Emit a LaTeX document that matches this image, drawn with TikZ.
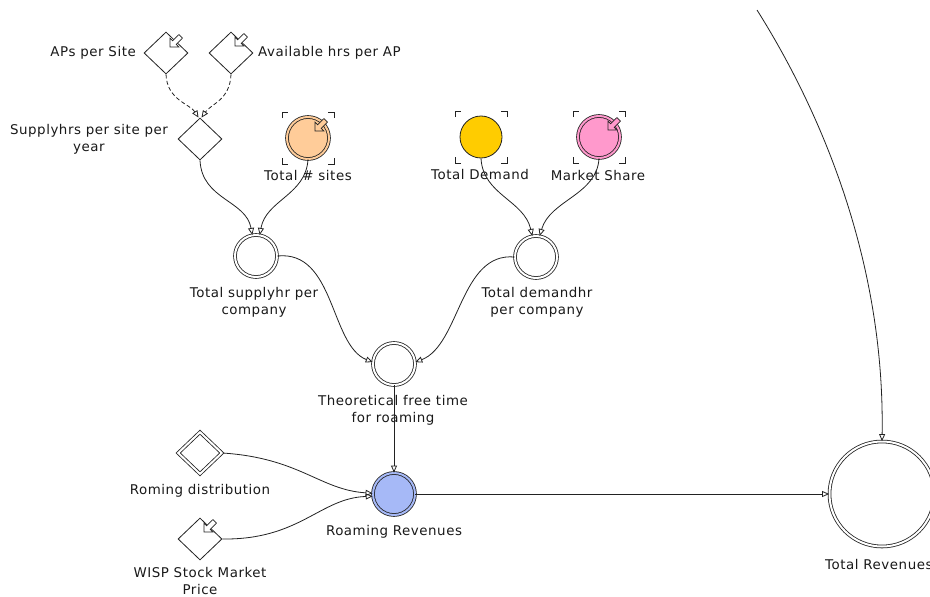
\documentclass[tikz,border=0pt]{standalone}
\usepackage{fontspec}
\setmainfont{DejaVu Sans}[LetterSpace=4]
\usetikzlibrary{shapes.geometric,arrows.meta}
\definecolor{lineclr}{HTML}{222222}
\definecolor{sitesfill}{HTML}{FFCC99}
\definecolor{demandfill}{HTML}{FFCC00}
\definecolor{sharefill}{HTML}{FF99CC}
\definecolor{roamfill}{HTML}{A6B9F7}
\begin{document}
\begin{tikzpicture}[x=1pt,y=-1pt,
  lbl/.style={font=\fontsize{13.4pt}{17pt}\selectfont, text=black!90, inner sep=0pt, align=center},
  conn/.style={draw=lineclr, line width=0.8pt, -{Triangle[open,length=7pt,width=6pt]}},
  dconn/.style={conn, dash pattern=on 4pt off 2.5pt},
  aux/.style={diamond, draw=lineclr, fill=white, line width=0.8pt, minimum width=44pt, minimum height=42pt, inner sep=0pt},
  dblcirc/.style={circle, draw=lineclr, line width=0.8pt, double=#1, double distance=2pt, fill=#1, minimum size=42pt, inner sep=0pt},
  pics/ghost/.style={code={
    \foreach \sx in {-1,1}\foreach \sy in {-1,1}{
      \draw[lineclr, line width=0.8pt] (\sx*26,\sy*20) -- (\sx*26,\sy*26) -- (\sx*20,\sy*26);}}},
  pics/inicon/.style={code={
    \draw[lineclr, line width=0.7pt, fill=#1] (0,0) -- (8.8,0) -- (6.2,-2.6) -- (12.4,-8.9)
      -- (8.9,-12.4) -- (2.6,-6.2) -- (0,-8.8) -- cycle;}}
]
\useasboundingbox (0,0) rectangle (930,597);

% converters and constants
\node[aux] (aps) at (166,53) {};
\node[aux] (avail) at (231,53) {};
\node[aux] (supply) at (200,139) {};
\node[aux, double=white, double distance=2pt] (rdist) at (200,453) {};
\node[aux] (wisp) at (200,539) {};

% variables
\node[dblcirc=sitesfill] (sites) at (308,138) {};
\node[circle, draw=lineclr, line width=0.8pt, fill=demandfill, minimum size=42pt, inner sep=0pt] (demand) at (481,137) {};
\node[dblcirc=sharefill] (share) at (599,137) {};
\node[dblcirc=white] (tsupply) at (256,256) {};
\node[dblcirc=white] (tdemand) at (536,257) {};
\node[dblcirc=white] (free) at (394,364) {};
\node[dblcirc=roamfill] (roam) at (394,494) {};
\node[dblcirc=white, minimum size=105pt] (trev) at (882,494) {};

% ghost brackets and input markers
\pic at (308,138) {ghost};
\pic at (481,137) {ghost};
\pic at (599,137) {ghost};
\pic at (170,47) {inicon=white};
\pic at (235,46) {inicon=white};
\pic at (315,131) {inicon=sitesfill};
\pic at (608,130) {inicon=sharefill};
\pic at (204,532) {inicon=white};

% labels
\node[lbl, anchor=east] (laps) at (136,53) {APs per Site};
\node[lbl, anchor=west] (lavail) at (258,53) {Available hrs per AP};
\node[lbl] (lsupply) at (89,139) {Supplyhrs per site per\\year};
\node[lbl] (lsites) at (308,176) {Total \# sites};
\node[lbl] (ldemand) at (480,175) {Total Demand};
\node[lbl] (lshare) at (598,176) {Market Share};
\node[lbl] (ltsupply) at (254,302) {Total supplyhr per\\company};
\node[lbl] (ltdemand) at (537,302) {Total demandhr\\per company};
\node[lbl] (lfree) at (393,410) {Theoretical free time\\for roaming};
\node[lbl] (lrdist) at (200,491) {Roming distribution};
\node[lbl] (lwisp) at (200,581) {WISP Stock Market\\Price};
\node[lbl] (lroam) at (394,532) {Roaming Revenues};
\node[lbl, anchor=west] (ltrev) at (825,565) {Total Revenues};

\coordinate (topend) at (757,10);

% connectors
\draw[dconn] (aps.south) .. controls (167,100) and (190,104) .. ([xshift=-1.5pt]supply.north);
\draw[dconn] (avail.south) .. controls (230,100) and (211,104) .. ([xshift=1.5pt]supply.north);
\draw[conn] (supply.south) .. controls (202,200) and (246,200) .. (tsupply.100);
\draw[conn] (sites.south) .. controls (306,195) and (266,200) .. (tsupply.80);
\draw[conn] (demand.south) .. controls (483,195) and (524,200) .. (tdemand.100);
\draw[conn] (share.south) .. controls (597,195) and (550,200) .. (tdemand.80);
\draw[conn] (tsupply.east) .. controls (335,250) and (330,345) .. (free.175);
\draw[conn] (tdemand.west) .. controls (460,252) and (460,345) .. (free.5);
\draw[conn] (free.south) -- (roam.north);
\draw[conn] (rdist.east) .. controls (300,458) and (320,490) .. (roam.178);
\draw[conn] (wisp.east) .. controls (300,540) and (320,498) .. (roam.186);
\draw[conn] (roam.east) -- (trev.west);
\draw[conn] (topend) .. controls (820,110) and (885,260) .. (trev.north);
\end{tikzpicture}
\end{document}
